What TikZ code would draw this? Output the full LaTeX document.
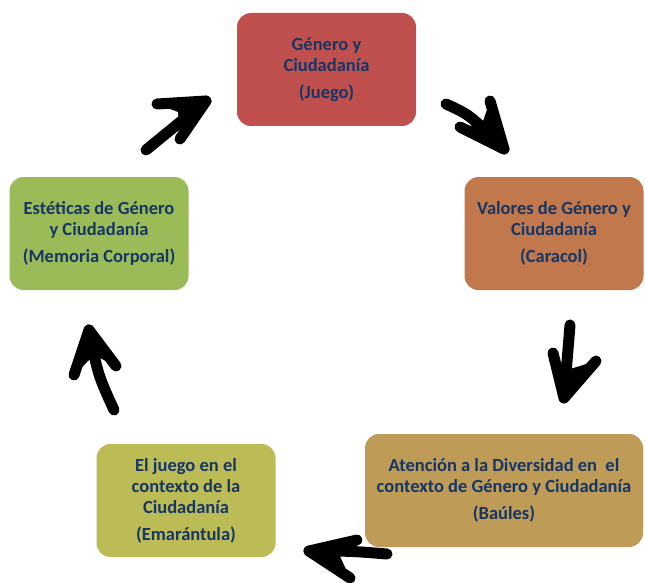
\documentclass[tikz,border=0pt]{standalone}
\usepackage{fontspec}
\setmainfont{Carlito}
\definecolor{txtblue}{RGB}{22,54,102}
\definecolor{cred}{RGB}{192,80,77}
\definecolor{corange}{RGB}{192,120,76}
\definecolor{cgreen}{RGB}{155,187,89}
\definecolor{colive}{RGB}{188,188,86}
\definecolor{cgold}{RGB}{190,155,87}
\begin{document}
\begin{tikzpicture}[x=1pt,y=-1pt,
  box/.style={rounded corners=14pt, minimum width=179pt, minimum height=113pt, inner sep=0pt,
    align=center, text=txtblue, font=\fontsize{18.5}{21}\selectfont\bfseries},
  shaft/.style={line width=11pt, line cap=round},
  head/.style={line width=11pt, line cap=round, line join=round}]
\useasboundingbox (0,0) rectangle (645,583);
\node[box, fill=cred] (g) at (326.5,69.5) {Género y\\Ciudadanía\\[6pt](Juego)};
\node[box, fill=corange] (v) at (554,233.5) {Valores de Género y\\Ciudadanía\\[6pt](Caracol)};
\node[box, fill=cgreen] (e) at (99,233.5) {Estéticas de Género\\y Ciudadanía\\[6pt](Memoria Corporal)};
\node[box, fill=cgold, minimum width=278pt] (a) at (504,490.5) {Atención a la Diversidad en\ \ el\\contexto de Género y Ciudadanía\\[6pt](Baúles)};
\node[box, fill=colive] (j) at (186,500.5) {El juego en el\\contexto de la\\Ciudadanía\\[6pt](Emarántula)};
% arrow 1: Estéticas -> Género
\coordinate (a1s) at (146,150);
\coordinate (a1t) at (206,101);
\coordinate (a1b) at (157,104);
\coordinate (a1c) at (180,139);
\draw[shaft] (a1s) -- (a1t);
\draw[head] (a1b) -- (a1t) -- (a1c);
\fill (a1t) -- (a1b) -- (178,112) -- (a1c) -- cycle;
% arrow 2: Género -> Valores
\coordinate (a2s) at (446,104);
\coordinate (a2t) at (504,149);
\coordinate (a2b) at (490,101);
\coordinate (a2c) at (460,127);
\draw[shaft] (a2s) .. controls (470,115) .. (a2t);
\draw[head] (a2b) -- (a2t) -- (a2c);
\fill (a2t) -- (a2b) -- (482,124) -- (a2c) -- cycle;
% arrow 3: Valores -> Atención
\coordinate (a3s) at (570,325);
\coordinate (a3t) at (564,398);
\coordinate (a3b) at (553,353);
\coordinate (a3c) at (596,361);
\draw[shaft] (a3s) -- (a3t);
\draw[head] (a3b) -- (a3t) -- (a3c);
\fill (a3t) -- (a3b) -- (567,370) -- (a3c) -- cycle;
% arrow 4: Atención -> El juego
\coordinate (a4s) at (387,554);
\coordinate (a4t) at (309,551);
\coordinate (a4b) at (357,540);
\coordinate (a4c) at (350,578);
\draw[shaft] (a4s) .. controls (350,551) .. (a4t);
\draw[head] (a4b) -- (a4t) -- (a4c);
\fill (a4t) -- (a4b) -- (338,552) -- (a4c) -- cycle;
% arrow 5: El juego -> Estéticas
\coordinate (a5s) at (114,410);
\coordinate (a5t) at (89,330);
\coordinate (a5b) at (74,375);
\coordinate (a5c) at (116,366);
\draw[shaft] (a5s) .. controls (98,375) .. (a5t);
\draw[head] (a5b) -- (a5t) -- (a5c);
\fill (a5t) -- (a5b) -- (94,355) -- (a5c) -- cycle;
\end{tikzpicture}
\end{document}
